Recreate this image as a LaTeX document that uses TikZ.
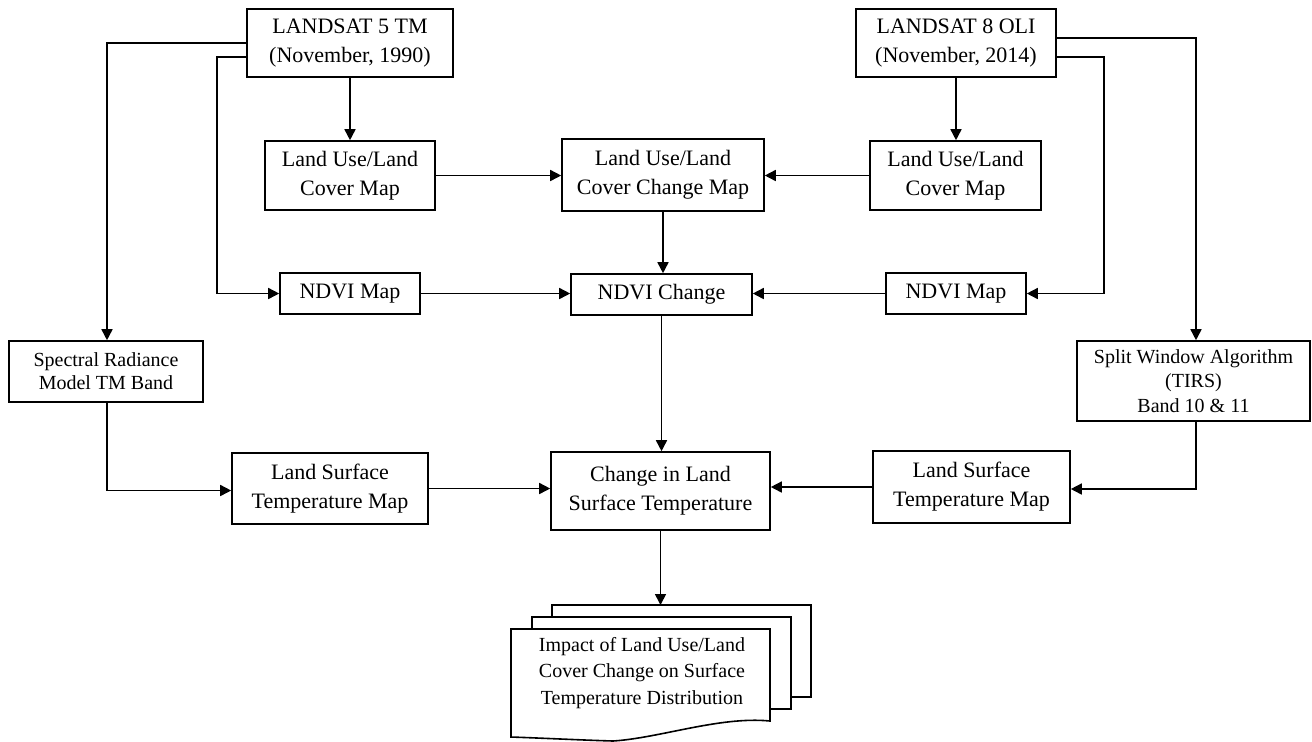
\documentclass[tikz,border=0pt]{standalone}
\usepackage{fontspec}
\setmainfont{Liberation Serif}
\usetikzlibrary{arrows.meta}

\tikzset{
  box/.style={draw, line width=0.8pt, inner sep=0pt, align=center,
    font=\fontsize{11}{14.5}\selectfont},
  smallbox/.style={box, font=\fontsize{10}{11.5}\selectfont},
  arr/.style={-{Triangle[length=5.5pt,width=5.5pt]}, line width=0.8pt},
  docline/.style={line width=0.8pt, fill=white}
}

\begin{document}
\begin{tikzpicture}[x=0.5pt, y=-0.5pt]
  \useasboundingbox (0,0) rectangle (1312,741);
  % Satellite scenes.
  \node[box, minimum width=103pt, minimum height=34pt] (l5) at (350,43)
    {LANDSAT 5 TM\\(November, 1990)};
  \node[box, minimum width=100pt, minimum height=34pt] (l8) at (956,43)
    {LANDSAT 8 OLI\\(November, 2014)};
  % Land use / land cover.
  \node[box, minimum width=85pt, minimum height=34.5pt] (lulcA) at (350,175.5)
    {Land Use/Land\\Cover Map};
  \node[box, minimum width=85.5pt, minimum height=34.5pt] (lulcB) at (955.5,175.5)
    {Land Use/Land\\Cover Map};
  \node[box, minimum width=101pt, minimum height=36pt] (lucc) at (663,175)
    {Land Use/Land\\Cover Change Map};
  % NDVI.
  \node[box, minimum width=70pt, minimum height=20.5pt] (ndviA) at (350,293.5) {NDVI Map};
  \node[box, minimum width=70pt, minimum height=20.5pt] (ndviB) at (956,293.5) {NDVI Map};
  \node[box, minimum width=90.5pt, minimum height=20.5pt] (ndvic) at (661.5,294.5) {NDVI Change};
  % Thermal processing.
  \node[smallbox, minimum width=97pt, minimum height=30.5pt] (srm) at (106,371.5)
    {Spectral Radiance\\Model TM Band};
  \node[smallbox, font=\fontsize{10}{12.3}\selectfont, minimum width=116.5pt,
    minimum height=40pt] (swa) at (1193.5,381)
    {Split Window Algorithm\\(TIRS)\\Band 10 \& 11};
  \node[box, minimum width=98pt, minimum height=35.5pt] (lstA) at (330,488.5)
    {Land Surface\\Temperature Map};
  \node[box, minimum width=98.5pt, minimum height=36pt] (lstB) at (971.5,487)
    {Land Surface\\Temperature Map};
  \node[box, minimum width=109.5pt, minimum height=39pt] (clst) at (660.5,491)
    {Change in Land\\Surface Temperature};
  % Output document stack.
  \coordinate (docTop) at (662,605);
  \foreach \dx/\dy in {41/24, 21/12}
    \draw[docline] (511+\dx,629-\dy) rectangle ++(259,92);
  \draw[docline] (511,629) -- (770,629) -- (770,721)
    .. controls (720,716) and (660,738) .. (613,741)
    .. controls (580,740) and (540,738) .. (511,737) -- cycle;
  \node[align=center, inner sep=0pt, font=\fontsize{10}{13.3}\selectfont] (impact)
    at (642,673) {Impact of Land Use/Land\\Cover Change on Surface\\Temperature Distribution};
  % Connectors.
  \draw[arr] (l5.south) -- (lulcA.north);
  \draw[arr] (l8.south) -- (l8.south |- lulcB.north);
  \draw[arr] (lulcA.east) -- (lulcA.east -| lucc.west);
  \draw[arr] (lulcB.west) -- (lulcB.west -| lucc.east);
  \draw[arr] (lucc.south) -- (lucc.south |- ndvic.north);
  \draw[arr] (ndviA.east) -- (ndviA.east -| ndvic.west);
  \draw[arr] (ndviB.west) -- (ndviB.west -| ndvic.east);
  \draw[arr] (ndvic.south) -- (ndvic.south |- clst.north);
  \draw[arr] (lstA.east) -- (lstA.east -| clst.west);
  \draw[arr] (lstB.west) -- (lstB.west -| clst.east);
  \draw[arr] (clst.south) -- (clst.south |- docTop);
  \draw[arr] (l5.west) -| ([xshift=0.5pt]srm.north);
  \draw[arr] ([yshift=-7pt]l5.west) -| ([xshift=-31pt]ndviA.west) -- (ndviA.west);
  \draw[arr] ([yshift=2.5pt]l8.east) -| ([xshift=1.25pt]swa.north);
  \draw[arr] ([yshift=-7pt]l8.east) -| ([xshift=38.5pt]ndviB.east) -- (ndviB.east);
  \draw[arr] ([xshift=0.5pt]srm.south) |- ([yshift=-1pt]lstA.west);
  \draw[arr] ([xshift=1.25pt]swa.south) |- ([yshift=-1pt]lstB.east);
\end{tikzpicture}
\end{document}
